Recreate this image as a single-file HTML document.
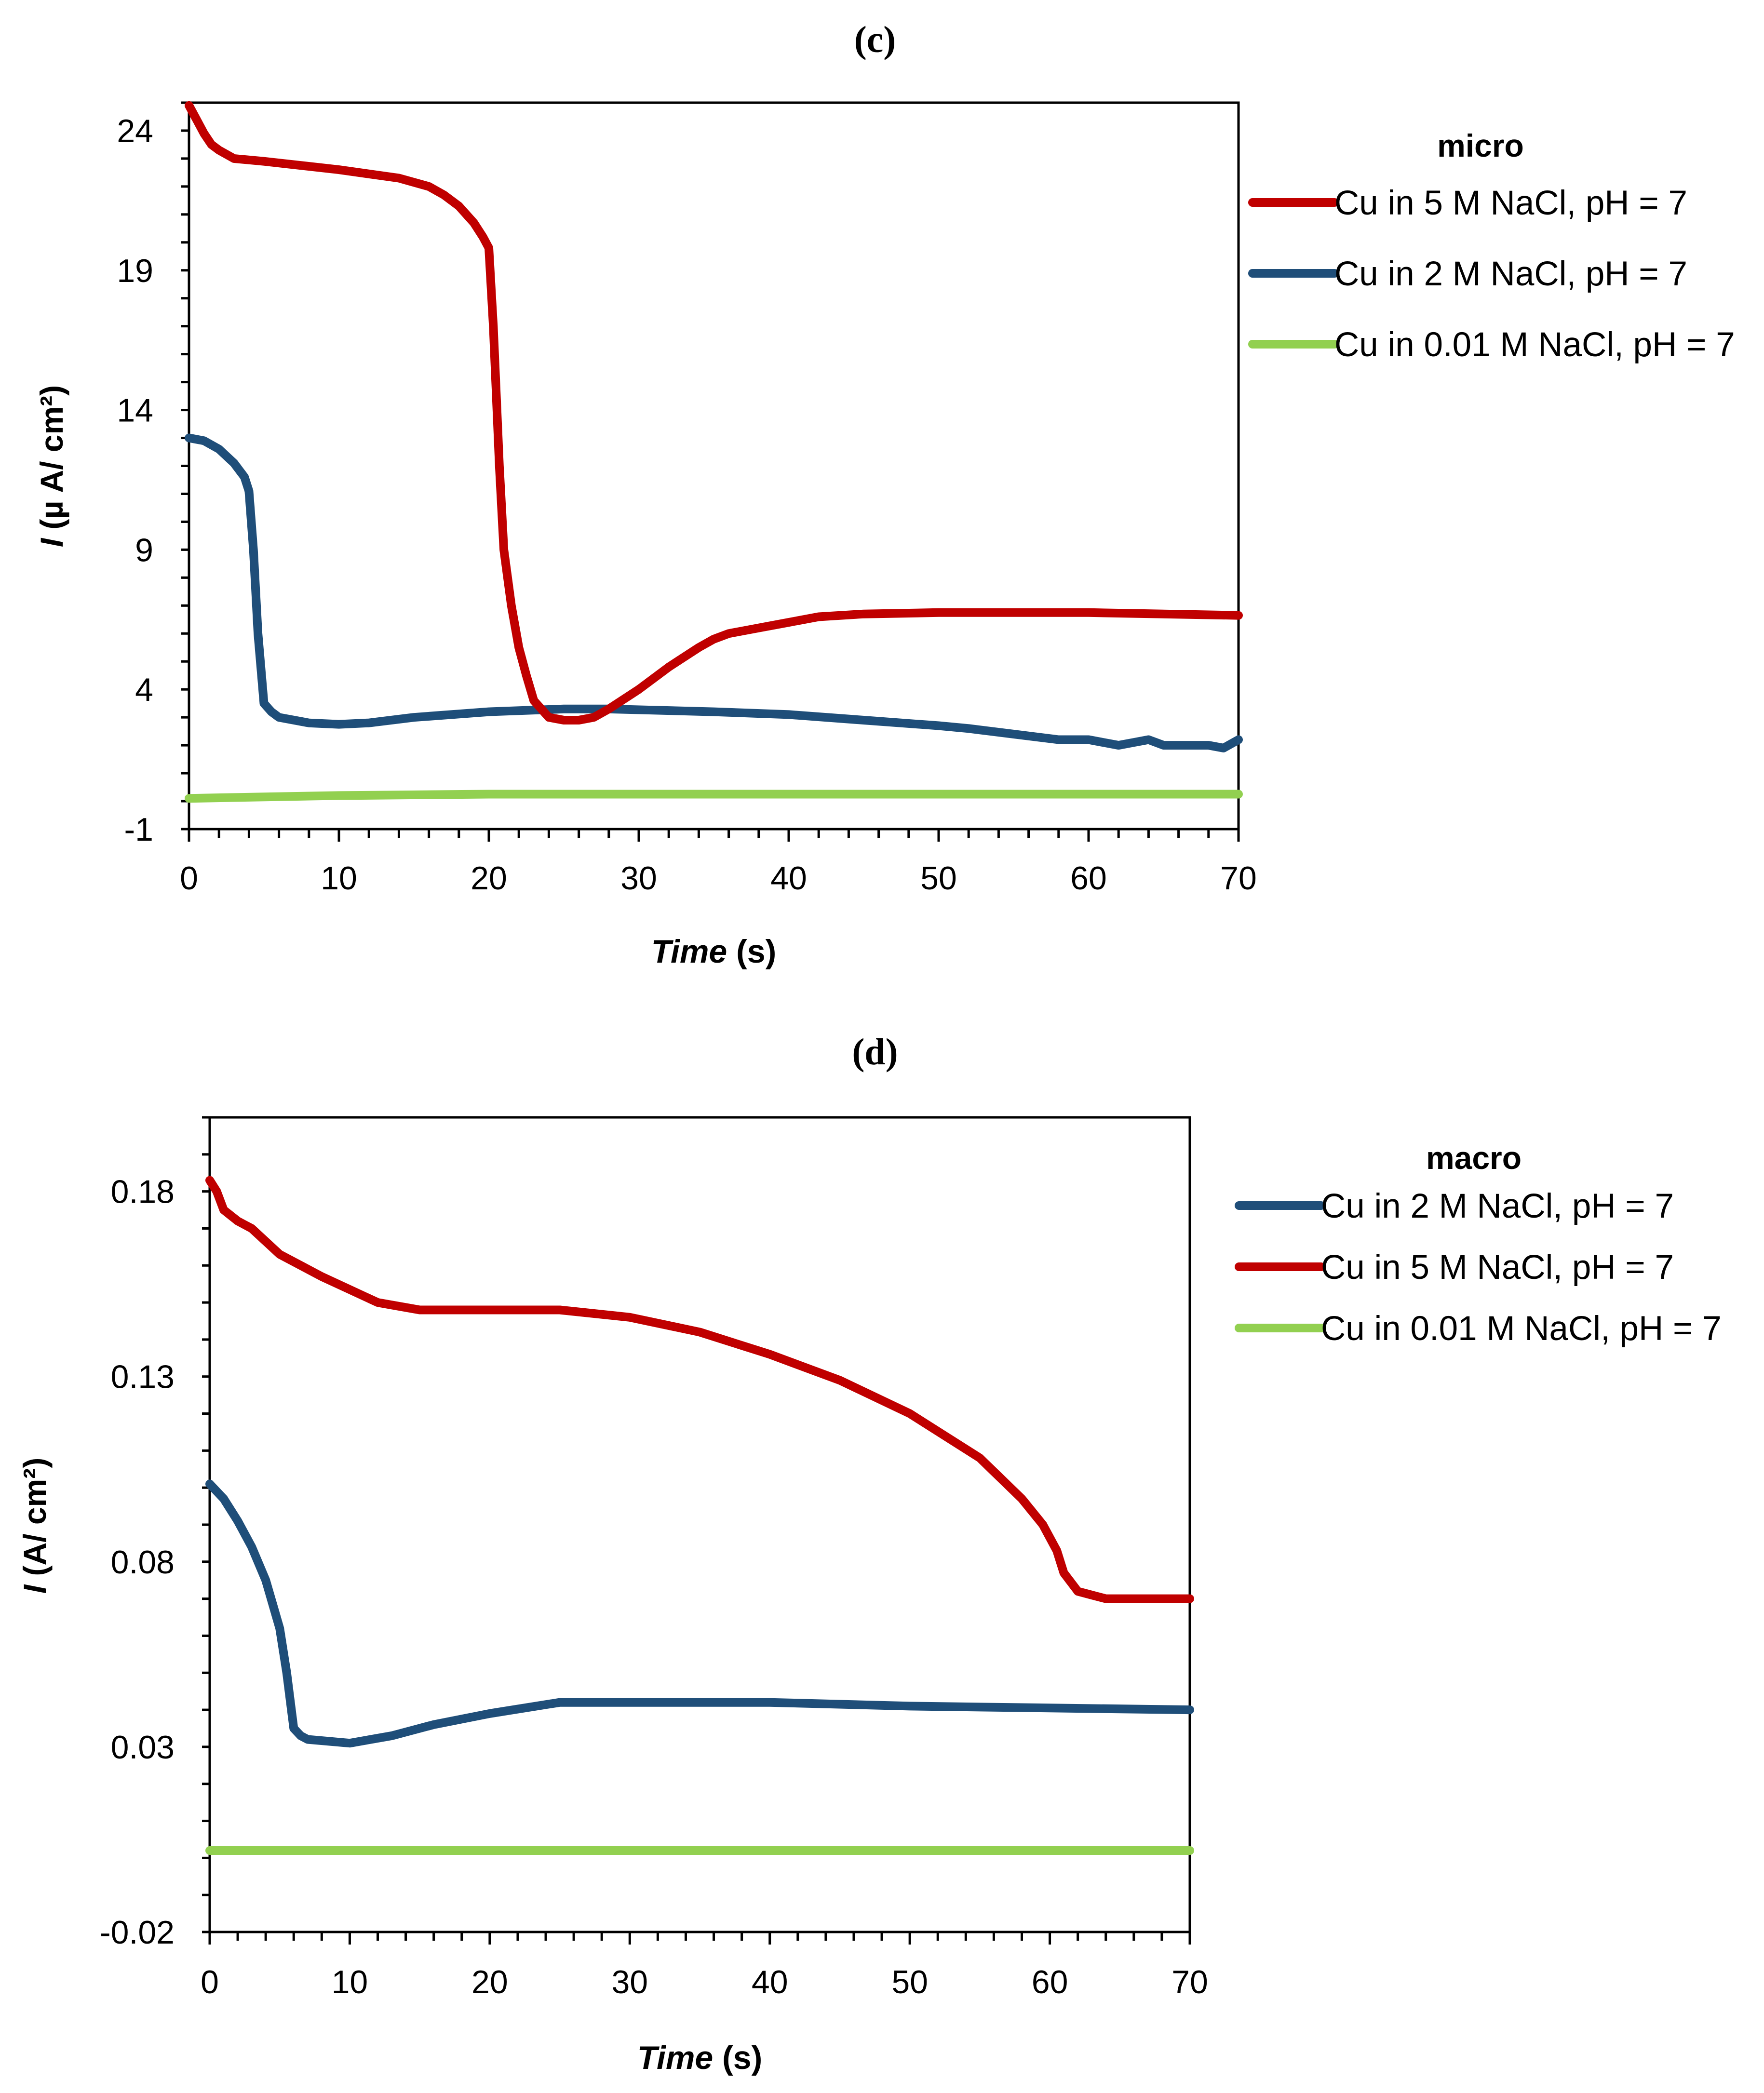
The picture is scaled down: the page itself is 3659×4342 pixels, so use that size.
<!DOCTYPE html>
<html><head><meta charset="utf-8"><style>
html,body{margin:0;padding:0;background:#fff;width:3659px;height:4342px;overflow:hidden}
text{font-family:"Liberation Sans",sans-serif}
</style></head><body>
<svg id="s" width="3659" height="4342" xmlns="http://www.w3.org/2000/svg">
<rect width="3659" height="4342" fill="#fff"/>
<text x="1815" y="108" font-weight="bold" font-size="78" text-anchor="middle" style="font-family:'Liberation Serif',serif">(c)</text>
<text x="1815" y="2208" font-weight="bold" font-size="78" text-anchor="middle" style="font-family:'Liberation Serif',serif">(d)</text>
</svg>
<script>
// ---- panel c data ----
const cTime5 = [0,0.5,1,1.5,2,3,5,10,14,16,17,18,19,19.6,20,20.3,20.7,21,21.5,22,22.5,23,24,25,26,27,28,30,32,34,35,36,38,40,42,45,50,60,70];
const cRed5 = [24.9,24.4,23.9,23.5,23.3,23,22.9,22.6,22.3,22,21.7,21.3,20.7,20.2,19.8,17,12,9,7,5.5,4.5,3.6,3,2.9,2.9,3,3.3,4,4.8,5.5,5.8,6,6.2,6.4,6.6,6.7,6.75,6.75,6.65];
const cTime2 = [0,1,2,3,3.7,4,4.3,4.6,5,5.5,6,8,10,12,15,20,25,28,35,40,45,50,52,55,58,60,62,63,64,65,68,69,70];
const cBlue2 = [13,12.9,12.6,12.1,11.6,11.1,9,6,3.5,3.2,3.0,2.8,2.75,2.8,3,3.2,3.3,3.3,3.2,3.1,2.9,2.7,2.6,2.4,2.2,2.2,2.0,2.1,2.2,2.0,2.0,1.9,2.2];
const cTime001 = [0,10,20,70];
const cGreen001 = [0.1,0.2,0.25,0.25];
const cYTicks = [-1,4,9,14,19,24];
const cXTicks = [0,10,20,30,40,50,60,70];
// ---- panel d data ----
const dTime5 = [0,0.5,1,2,3,5,8,12,15,20,25,30,35,40,45,50,55,58,59.5,60.5,61,62,63,64,70];
const dRed5 = [0.183,0.180,0.175,0.172,0.170,0.163,0.157,0.150,0.148,0.148,0.148,0.146,0.142,0.136,0.129,0.120,0.108,0.097,0.090,0.083,0.077,0.072,0.071,0.070,0.070];
const dTime2 = [0,1,2,3,4,5,5.5,6,6.5,7,10,13,16,20,25,30,40,50,70];
const dBlue2 = [0.101,0.097,0.091,0.084,0.075,0.062,0.05,0.035,0.033,0.032,0.031,0.033,0.036,0.039,0.042,0.042,0.042,0.041,0.040];
const dTime001 = [0,70];
const dGreen001 = [0.002,0.002];
const dYTicks = [-0.02,0.03,0.08,0.13,0.18];
const dXTicks = [0,10,20,30,40,50,60,70];

const NS="http://www.w3.org/2000/svg";
const svg=document.getElementById('s');
function mk(tag,attrs,parent){const e=document.createElementNS(NS,tag);for(const k in attrs)e.setAttribute(k,attrs[k]);(parent||svg).appendChild(e);return e;}
const RED="#c00000",BLUE="#1f4e79",GREEN="#92d050";

function panel(p){
  const g=mk('g',{});
  
  
  const X=v=>p.L+(v-p.x0)/(p.x1-p.x0)*(p.R-p.L);
  const Y=v=>p.B-(v-p.y0)/(p.y1-p.y0)*(p.B-p.T);
  const frame=mk('rect',{x:p.L,y:p.T,width:p.R-p.L,height:p.B-p.T,fill:'none',stroke:'#000','stroke-width':5},g);
  
  
  for(let v=p.y0;v<=p.y1+1e-9;v+=p.yMinor){
    const t=mk('line',{x1:p.L-16,x2:p.L,y1:Y(v),y2:Y(v),stroke:'#000','stroke-width':5},g);
    
    
  }
  for(let v=p.x0;v<=p.x1+1e-9;v+=2){
    const t=mk('line',{x1:X(v),x2:X(v),y1:p.B,y2:p.B+(v%10===0?26:18),stroke:'#000','stroke-width':5},g);
    
    
  }
  p.yTicks.forEach(v=>{
    const t=mk('text',{x:p.yLabX,y:Y(v)+24,'font-size':68,'text-anchor':'end'},g);
    t.textContent=p.fmt(v);
    
    
  });
  p.xTicks.forEach(v=>{
    const t=mk('text',{x:X(v),y:p.xLabY,'font-size':68,'text-anchor':'middle'},g);
    t.textContent=v;
    
    
  });
  const xt=mk('text',{x:(p.L+p.R)/2,y:p.xTitleY,'font-size':68,'font-weight':'bold','text-anchor':'middle'},g);
  xt.innerHTML='<tspan font-style="italic">Time</tspan> (s)';
  
  
  const yt=mk('text',{x:0,y:0,'font-size':66,'font-weight':'bold','text-anchor':'middle',transform:`translate(${p.yTitleX},${p.yTitleY}) rotate(-90)`},g);
  yt.innerHTML=p.yTitle;
  
  
  p.series.forEach(s=>{
    const d=s.x.map((v,i)=>(i?'L':'M')+X(v).toFixed(1)+','+Y(s.y[i]).toFixed(1)).join(' ');
    const path=mk('path',{d:d,fill:'none',stroke:s.c,'stroke-width':18,'stroke-linejoin':'round','stroke-linecap':'round'},g);
    
    
  });
  const lt=mk('text',{x:p.legTitleX,y:p.legTitleY,'font-size':66,'font-weight':'bold','text-anchor':'middle'},g);
  lt.textContent=p.legTitle;
  
  
  p.legend.forEach((e,i)=>{
    const y=p.legY0+i*p.legDY;
    const ln=mk('line',{x1:p.legX,x2:p.legX+170,y1:y,y2:y,stroke:e.c,'stroke-width':18,'stroke-linecap':'round'},g);
    
    
    const tx=mk('text',{x:p.legX+170,y:y+25,'font-size':71},g);
    tx.textContent=e.label;
    
    
  });
}

panel({name:'chart-c',L:392,R:2569,T:213,B:1720,x0:0,x1:70,y0:-1,y1:25,yMinor:1,
  yTicks:cYTicks,xTicks:cXTicks,fmt:v=>String(v),yLabX:318,xLabY:1845,xTitleY:1997,
  yTitleX:130,yTitleY:967,yTitle:'<tspan font-style="italic">I</tspan> (µ A/ cm²)',
  series:[{x:cTime001,y:cGreen001,c:GREEN,name:'series-0.01M'},{x:cTime2,y:cBlue2,c:BLUE,name:'series-2M'},{x:cTime5,y:cRed5,c:RED,name:'series-5M'}],
  legX:2598,legTitleX:3071,legTitleY:325,legTitle:'micro',legY0:420,legDY:147,
  legend:[{c:RED,label:'Cu in 5 M NaCl, pH = 7'},{c:BLUE,label:'Cu in 2 M NaCl, pH = 7'},{c:GREEN,label:'Cu in 0.01 M NaCl, pH = 7'}]});

panel({name:'chart-d',L:435,R:2468,T:2318,B:4008,x0:0,x1:70,y0:-0.02,y1:0.2,yMinor:0.01,
  yTicks:dYTicks,xTicks:dXTicks,fmt:v=>v.toFixed(2),yLabX:362,xLabY:4135,xTitleY:4292,
  yTitleX:95,yTitleY:3165,yTitle:'<tspan font-style="italic">I</tspan> (A/ cm²)',
  series:[{x:dTime001,y:dGreen001,c:GREEN,name:'series-0.01M'},{x:dTime2,y:dBlue2,c:BLUE,name:'series-2M'},{x:dTime5,y:dRed5,c:RED,name:'series-5M'}],
  legX:2570,legTitleX:3057,legTitleY:2425,legTitle:'macro',legY0:2501,legDY:127,
  legend:[{c:BLUE,label:'Cu in 2 M NaCl, pH = 7'},{c:RED,label:'Cu in 5 M NaCl, pH = 7'},{c:GREEN,label:'Cu in 0.01 M NaCl, pH = 7'}]});
</script>
</body></html>
